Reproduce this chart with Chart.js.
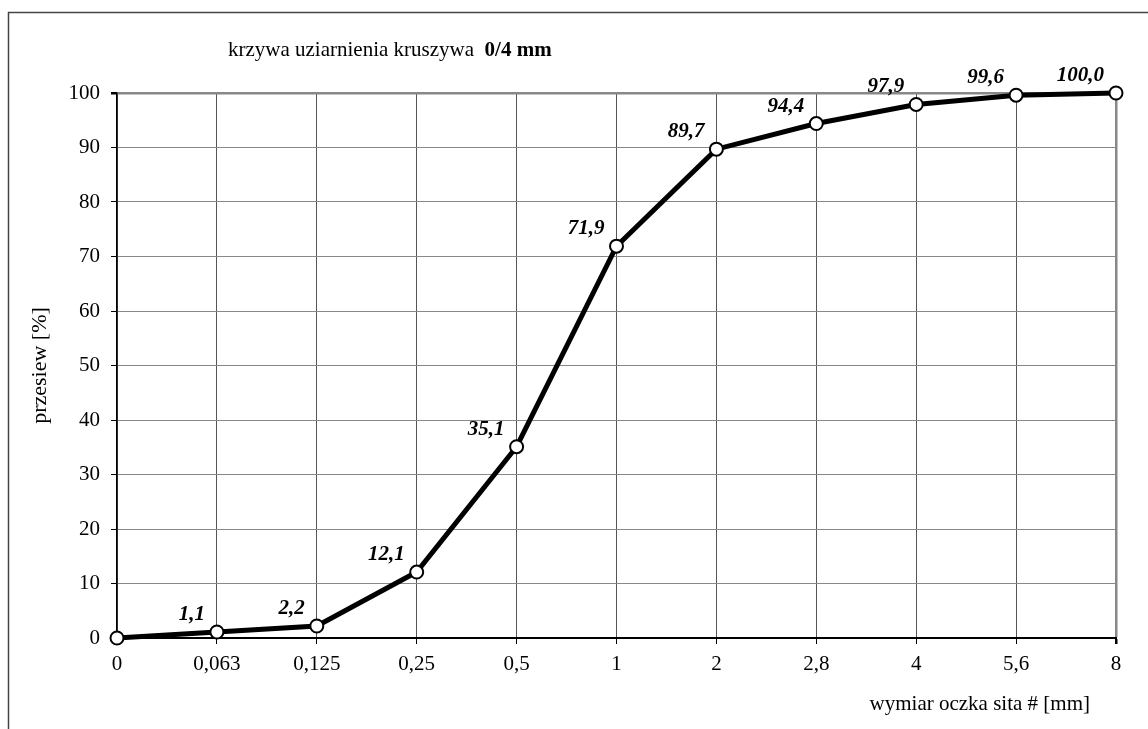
<!DOCTYPE html>
<html>
<head>
<meta charset="utf-8">
<script src="https://cdn.jsdelivr.net/npm/chart.js@4.4.0/dist/chart.umd.min.js"></script>
<style>
  html, body { margin: 0; padding: 0; background: #fff; }
  #wrap { width: 1148px; height: 729px; position: relative; }
</style>
</head>
<body>
<div id="wrap"><canvas id="myChart" width="1148" height="729"></canvas></div>
<script>
// dane z wykresu
const sieveLabels = ['0', '0,063', '0,125', '0,25', '0,5', '1', '2', '2,8', '4', '5,6', '8'];
const passing = [0, 1.1, 2.2, 12.1, 35.1, 71.9, 89.7, 94.4, 97.9, 99.6, 100.0];
const yTicks = [0, 10, 20, 30, 40, 50, 60, 70, 80, 90, 100];

const titleText = 'krzywa uziarnienia kruszywa';
const titleBold = '0/4 mm';
const yTitle = 'przesiew [%]';
const xTitle = 'wymiar oczka sita # [mm]';

const serif = '"Liberation Serif", "Times New Roman", serif';

function fmt(v) {
  return v.toFixed(1).replace('.', ',');
}

// ramka, tytul, opisy osi i etykiety punktow
const extras = {
  id: 'extras',
  beforeDraw(chart) {
    const ctx = chart.ctx;
    ctx.save();
    ctx.strokeStyle = '#444';
    ctx.lineWidth = 1.5;
    ctx.strokeRect(8.5, 12.5, 1200, 800);
    ctx.restore();
  },
  afterDatasetsDraw(chart) {
    const ctx = chart.ctx;
    const area = chart.chartArea;
    ctx.save();
    ctx.fillStyle = '#000';
    // tytul
    ctx.textBaseline = 'alphabetic';
    ctx.textAlign = 'left';
    ctx.font = '21px ' + serif;
    ctx.fillText(titleText, 228, 56);
    let w = ctx.measureText(titleText + '  ').width;
    ctx.font = 'bold 21px ' + serif;
    ctx.fillText(titleBold, 228 + w, 56);
    // opis osi x
    ctx.font = '21px ' + serif;
    ctx.textAlign = 'right';
    ctx.fillText(xTitle, 1090, 710);
    // opis osi y
    ctx.font = '22px ' + serif;
    ctx.translate(40, (area.top + area.bottom) / 2);
    ctx.rotate(-Math.PI / 2);
    ctx.textAlign = 'center';
    ctx.textBaseline = 'middle';
    ctx.fillText(yTitle, 0, 0);
    ctx.restore();

    // etykiety wartosci
    const meta = chart.getDatasetMeta(0);
    ctx.save();
    ctx.font = 'italic bold 21px ' + serif;
    ctx.fillStyle = '#000';
    ctx.textAlign = 'right';
    ctx.textBaseline = 'alphabetic';
    meta.data.forEach((pt, i) => {
      if (passing[i] === 0) return;
      ctx.fillText(fmt(passing[i]), pt.x - 12, pt.y - 12);
    });
    ctx.restore();
  }
};

const ctx = document.getElementById('myChart').getContext('2d');
const myChart = new Chart(ctx, {
  type: 'line',
  data: {
    labels: sieveLabels,
    datasets: [{
      data: passing,
      borderColor: '#000',
      borderWidth: 5,
      pointRadius: 6.5,
      pointBorderWidth: 2,
      pointBackgroundColor: '#fff',
      pointBorderColor: '#000',
      tension: 0,
      clip: false
    }]
  },
  options: {
    responsive: false,
    animation: false,
    events: [],
    layout: { padding: { left: 0, top: 93, right: 32, bottom: 0 } },
    plugins: {
      legend: { display: false },
      tooltip: { enabled: false }
    },
    scales: {
      x: {
        type: 'category',
        offset: false,
        grid: {
          color: (c) => c.index === sieveLabels.length - 1 ? '#888' : '#555',
          lineWidth: (c) => c.index === sieveLabels.length - 1 ? 2.5 : 1,
          tickColor: '#000',
          tickLength: 6
        },
        border: { color: '#000', width: 2 },
        ticks: {
          color: '#000',
          font: { family: serif, size: 21 },
          padding: 8,
          maxRotation: 0,
          autoSkip: false
        },
        afterFit(scale) { scale.height = 91; }
      },
      y: {
        min: 0,
        max: 100,
        afterBuildTicks(scale) {
          scale.ticks = yTicks.map(v => ({ value: v }));
        },
        grid: {
          color: '#888',
          lineWidth: (c) => c.tick && c.tick.value === 100 ? 2.5 : 1,
          tickColor: '#000',
          tickLength: 6
        },
        border: { color: '#000', width: 1.5 },
        ticks: {
          color: '#000',
          font: { family: serif, size: 21 },
          padding: 11
        },
        afterFit(scale) { scale.width = 117; }
      }
    }
  },
  plugins: [extras]
});
</script>
</body>
</html>
